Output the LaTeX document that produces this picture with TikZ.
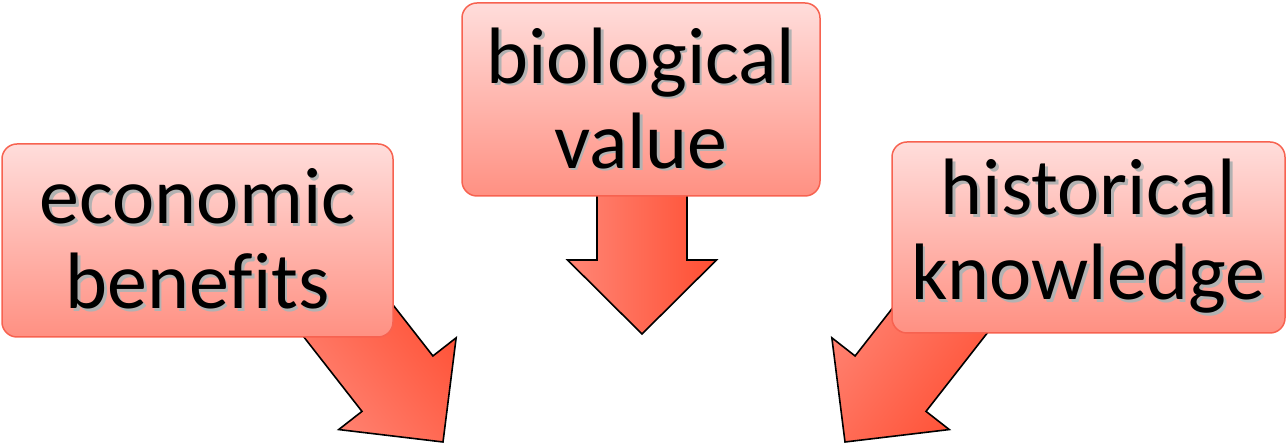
\documentclass[tikz,border=0pt]{standalone}
\usepackage{fontspec}
\setmainfont[Ligatures=NoCommon]{Carlito}
\definecolor{boxtop}{RGB}{255,221,219}
\definecolor{boxbot}{RGB}{255,144,130}
\definecolor{boxline}{RGB}{247,98,80}
\definecolor{arrlight}{RGB}{255,134,118}
\definecolor{arrdark}{RGB}{255,78,50}
\newcommand{\shtext}[1]{\makebox[0pt][l]{\raisebox{-2.5pt}{\hspace{2.5pt}\color{black!30}#1}}#1}
\tikzset{
  topic/.style={draw=boxline, line width=1.5pt, rounded corners=15pt,
    top color=boxtop, bottom color=boxbot, align=center, inner sep=0pt,
    font=\fontsize{80}{85}\selectfont},
  blockarrow/.style={draw=black, line width=1.6pt, line join=miter,
    left color=arrlight, right color=arrdark}
}
\begin{document}
\begin{tikzpicture}[x=1pt, y=1pt]
        \useasboundingbox (0,0) rectangle (1286,446);
        % arrows first, the boxes lie over their tails
        \filldraw[blockarrow, shift={(443,4)}, rotate=38, shading angle=128]
        (0,0) -- (74.5,74) -- (45,74) -- (45,200) -- (-45,200) -- (-45,74) -- (-74.5,74) -- cycle;
        \filldraw[blockarrow, shift={(642,112)}]
        (0,0) -- (74.5,74) -- (45,74) -- (45,200) -- (-45,200) -- (-45,74) -- (-74.5,74) -- cycle;
        \filldraw[blockarrow, shift={(845,4)}, rotate=-38, shading angle=52]
        (0,0) -- (74.5,74) -- (45,74) -- (45,200) -- (-45,200) -- (-45,74) -- (-74.5,74) -- cycle;
        % boxes
        \node[topic, minimum width=391, minimum height=193] (econ) at (197.5,205.5)
        {\shtext{economic}\\\shtext{benefits}};
        \node[topic, minimum width=358, minimum height=193] (bio) at (641,346.5)
        {\shtext{biological}\\\shtext{value}};
        \node[topic, minimum width=393, minimum height=191] (hist) at (1088.5,208.5)
        {\shtext{historical}\\\shtext{knowledge}};
\end{tikzpicture}
\end{document}
